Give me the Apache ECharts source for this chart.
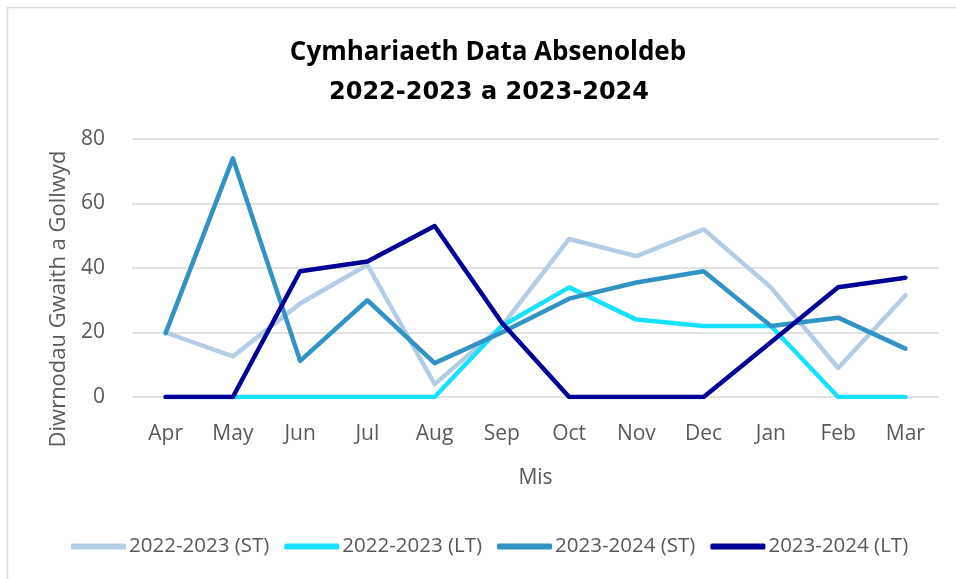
<!DOCTYPE html>
<html>
<head>
<meta charset="utf-8">
<script src="https://cdn.jsdelivr.net/npm/echarts@6/dist/echarts.min.js"></script>
<style>
  html, body { margin: 0; padding: 0; background: #fff; }
  #chart { width: 956px; height: 579px; }
</style>
</head>
<body>
<div id="chart"></div>
<script>
  // months on the category axis
  const months = ['Apr', 'May', 'Jun', 'Jul', 'Aug', 'Sep', 'Oct', 'Nov', 'Dec', 'Jan', 'Feb', 'Mar'];

  // days lost per month
  const st2223 = [20, 12.6, 29, 41, 4, 22, 49, 43.7, 52, 34, 9, 31.5];
  const lt2223 = [0, 0, 0, 0, 0, 22, 34, 24, 22, 22, 0, 0];
  const st2324 = [19.8, 74, 11.2, 30, 10.5, 20, 30.5, 35.5, 39, 22, 24.6, 15];
  const lt2324 = [0, 0, 39, 42, 53, 23, 0, 0, 0, 17, 34, 37];

  const seriesNames = ['2022-2023 (ST)', '2022-2023 (LT)', '2023-2024 (ST)', '2023-2024 (LT)'];
  const seriesColors = ['#B4CDE4', '#17E1FF', '#3093C3', '#000096'];
  const seriesData = [st2223, lt2223, st2324, lt2324];

  const font = '"Open Sans", "Noto Sans", sans-serif';
  const chart = echarts.init(document.getElementById('chart'));

  const option = {
    animation: false,
    title: [
      {
        text: 'Cymhariaeth Data Absenoldeb',
        left: 483,
        top: 35,
        textAlign: 'center',
        textStyle: { fontFamily: font, fontSize: 26, fontWeight: 'bold', color: '#000' },
      },
      {
        text: '2022-2023 a 2023-2024',
        left: 484,
        top: 76,
        textAlign: 'center',
        textStyle: { fontFamily: '"DejaVu Sans", sans-serif', fontSize: 24, fontWeight: 'bold', color: '#000' },
      },
    ],
    legend: {
      data: seriesNames,
      bottom: 17,
      left: 66,
      icon: 'roundRect',
      itemWidth: 55,
      itemHeight: 6,
      itemGap: 15,
      textStyle: {
        fontFamily: font,
        fontSize: 20.5,
        color: '#595959',
        padding: [0, 0, 0, -2],
      },
    },
    grid: {
      left: 132,
      right: 17,
      top: 139,
      bottom: 182,
    },
    xAxis: {
      type: 'category',
      data: months,
      boundaryGap: true,
      name: 'Mis',
      nameLocation: 'middle',
      nameGap: 71,
      nameTextStyle: { fontFamily: font, fontSize: 21, color: '#595959' },
      axisLine: { show: false },
      axisTick: { show: false },
      axisLabel: { fontFamily: font, fontSize: 21, color: '#595959', margin: 27 },
    },
    yAxis: {
      type: 'value',
      min: 0,
      max: 80,
      interval: 20,
      name: 'Diwrnodau Gwaith a Gollwyd',
      nameLocation: 'middle',
      nameGap: 62,
      nameTextStyle: {
        fontFamily: font,
        fontSize: 22,
        color: '#595959',
        padding: [0, 62, 0, 0],
      },
      axisLabel: { fontFamily: font, fontSize: 21, color: '#595959', margin: 27 },
      splitLine: { lineStyle: { color: '#D9D9D9', width: 1.5 } },
    },
    series: seriesNames.map((name, i) => ({
      name: name,
      type: 'line',
      data: seriesData[i],
      symbol: 'none',
      itemStyle: { color: seriesColors[i] },
      lineStyle: { color: seriesColors[i], width: 4.5, cap: 'round', join: 'round' },
    })),
    graphic: [
      {
        type: 'rect',
        shape: { x: 7.5, y: 7.5, width: 1000, height: 700 },
        style: { fill: 'none', stroke: '#D9D9D9', lineWidth: 1.5 },
        silent: true,
      },
    ],
  };

  chart.setOption(option);
</script>
</body>
</html>
